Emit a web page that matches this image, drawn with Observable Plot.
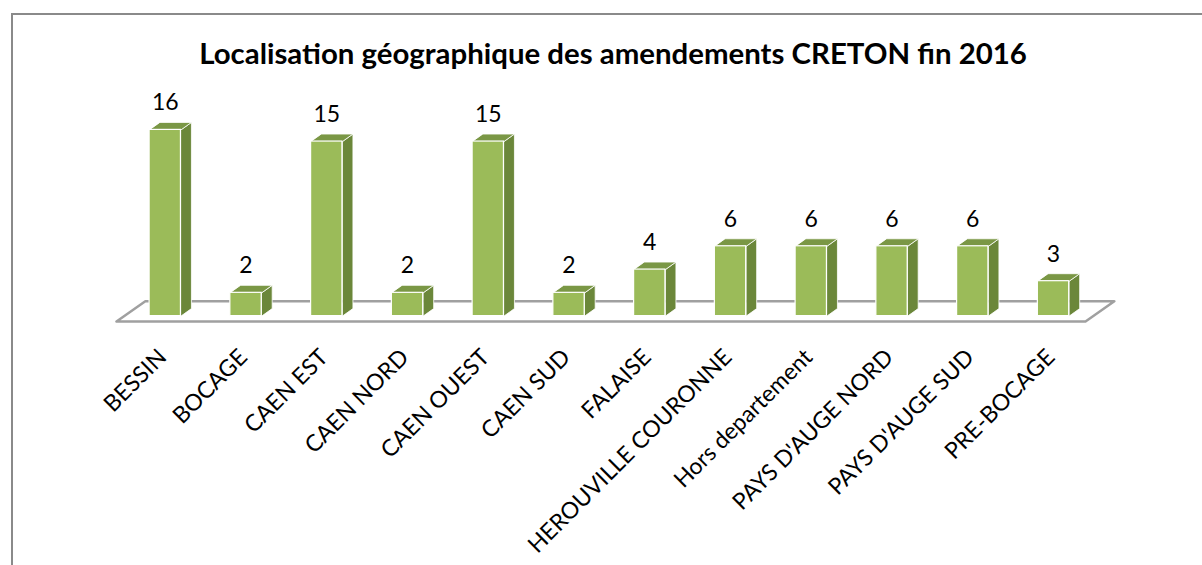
<!DOCTYPE html>
<html>
<head>
<meta charset="utf-8">
<script src="https://cdn.jsdelivr.net/npm/d3@7"></script>
<script src="https://cdn.jsdelivr.net/npm/@observablehq/plot@0.6"></script>
<style>
  html, body { margin: 0; padding: 0; background: #fff; }
  #wrap { position: relative; width: 1202px; height: 565px; overflow: hidden; background: #fff; }
  #frame { position: absolute; left: 11px; top: 13px; width: 1400px; height: 800px; border: 2px solid #8a8a8a; }
  #title { position: absolute; left: 0; top: 40px; white-space: nowrap; font-family: Lato, sans-serif; font-weight: bold; font-size: 26px; line-height: 1; color: #000; }
  #chart { position: absolute; left: 0; top: 0; }
</style>
</head>
<body>
<div id="wrap">
  <div id="frame"></div>
  <div id="chart"></div>
  <span id="title"></span>
</div>
<script>
// ---- data ----
const titleText = "Localisation géographique des amendements CRETON fin 2016";
const categories = ["BESSIN", "BOCAGE", "CAEN EST", "CAEN NORD", "CAEN OUEST", "CAEN SUD", "FALAISE",
  "HEROUVILLE COURONNE", "Hors departement", "PAYS D'AUGE NORD", "PAYS D'AUGE SUD", "PRE-BOCAGE"];
const values = [16, 2, 15, 2, 15, 2, 4, 6, 6, 6, 6, 3];

// ---- 3D geometry (data units) ----
const HALF = 0.194;          // half width of a bar's front face
const DEPTH_X = 0.13;        // bar depth, x
const DEPTH_Y = 0.644;       // bar depth, y
const FLOOR_X0 = -0.604, FLOOR_X1 = 11.396, FLOOR_Y = -0.464;
const FLOOR_DX = 0.357, FLOOR_DY = 1.744;

const idx = categories.map((_, i) => i);

const floorPts = [
  {x: FLOOR_X0, y: FLOOR_Y},
  {x: FLOOR_X1, y: FLOOR_Y},
  {x: FLOOR_X1 + FLOOR_DX, y: FLOOR_Y + FLOOR_DY},
  {x: FLOOR_X0 + FLOOR_DX, y: FLOOR_Y + FLOOR_DY}
];

const sides = idx.flatMap(i => {
  const v = values[i];
  return [
    {id: i, x: i + HALF, y: 0},
    {id: i, x: i + HALF + DEPTH_X, y: DEPTH_Y},
    {id: i, x: i + HALF + DEPTH_X, y: v + DEPTH_Y},
    {id: i, x: i + HALF, y: v}
  ];
});
const tops = idx.flatMap(i => {
  const v = values[i];
  return [
    {id: i, x: i - HALF, y: v},
    {id: i, x: i + HALF, y: v},
    {id: i, x: i + HALF + DEPTH_X, y: v + DEPTH_Y},
    {id: i, x: i - HALF + DEPTH_X, y: v + DEPTH_Y}
  ];
});

const chart = Plot.plot({
  width: 1202,
  height: 565,
  margin: 0,
  style: {fontFamily: "Lato, sans-serif", background: "transparent", overflow: "visible"},
  x: {type: "linear", domain: [FLOOR_X0, FLOOR_X1], range: [116, 1085], axis: null},
  y: {type: "linear", domain: [0, 16], range: [315.6, 129.4], axis: null},
  marks: [
    Plot.line(floorPts, {x: "x", y: "y", curve: "linear-closed", fill: "white", stroke: "#a0a0a0", strokeWidth: 2.5}),
    Plot.line(sides, {x: "x", y: "y", z: "id", curve: "linear-closed", fill: "#6b873a", stroke: "#ffffff", strokeWidth: 1, strokeOpacity: 0.8}),
    Plot.line(tops, {x: "x", y: "y", z: "id", curve: "linear-closed", fill: "#7a9745", stroke: "#ffffff", strokeWidth: 1, strokeOpacity: 0.8}),
    Plot.rect(idx, {x1: i => i - HALF, x2: i => i + HALF, y1: 0, y2: i => values[i], fill: "#9bbb59", stroke: "#ffffff", strokeWidth: 1.2}),
    Plot.text(idx, {x: i => i, y: i => values[i], text: i => String(values[i]), dy: -27, fontSize: 23, fill: "#000"}),
    Plot.text(idx, {x: i => i, y: 0, text: i => categories[i], rotate: -45, textAnchor: "end", lineAnchor: "top", dx: -9, dy: 31, fontSize: 23, fill: "#000"})
  ]
});
document.getElementById("chart").appendChild(chart);

// title, fitted to the reference width
const t = document.getElementById("title");
t.textContent = titleText;
const targetW = 828, centerX = 613, baseline = 64;
let fs = 26;
t.style.fontSize = fs + "px";
const w = t.getBoundingClientRect().width;
fs = fs * targetW / w;
t.style.fontSize = fs + "px";
const w2 = t.getBoundingClientRect().width;
t.style.left = (centerX - w2 / 2) + "px";
t.style.top = (baseline - 0.887 * fs) + "px";
</script>
</body>
</html>
